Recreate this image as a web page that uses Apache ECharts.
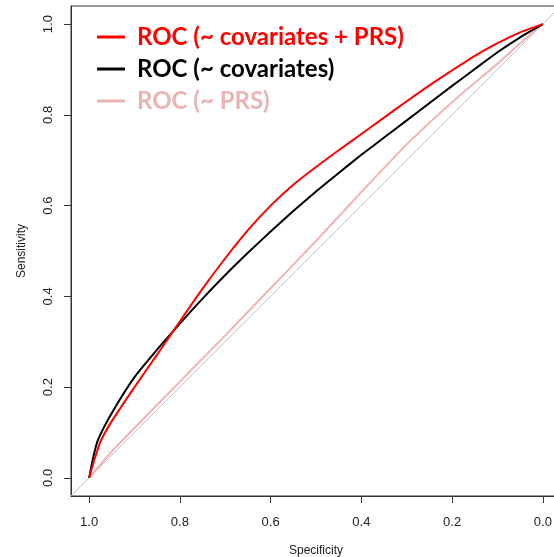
<!DOCTYPE html>
<html>
<head>
<meta charset="utf-8">
<script src="https://cdn.jsdelivr.net/npm/echarts@6/dist/echarts.min.js"></script>
<style>
  html, body { margin: 0; padding: 0; background: #fff; }
  #rocChart { width: 554px; height: 557px; }
</style>
</head>
<body>
<div id="rocChart"></div>
<script>
// ROC curves (specificity runs from 1 to 0)
let covPrsSpec = [1.0, 0.99, 0.975, 0.95, 0.9, 0.85, 0.8, 0.75, 0.7, 0.65, 0.6, 0.55, 0.5, 0.45, 0.4, 0.35, 0.3, 0.25, 0.2, 0.15, 0.1, 0.05, 0.0];
let covPrsSens = [0.0, 0.035, 0.08, 0.125, 0.2, 0.272, 0.345, 0.417, 0.484, 0.546, 0.6, 0.646, 0.685, 0.722, 0.758, 0.794, 0.83, 0.865, 0.898, 0.93, 0.958, 0.982, 1.0];

let covSpec = [1.0, 0.99, 0.98, 0.95, 0.9, 0.85, 0.8, 0.75, 0.7, 0.65, 0.6, 0.55, 0.5, 0.45, 0.4, 0.35, 0.3, 0.25, 0.2, 0.15, 0.1, 0.05, 0.0];
let covSens = [0.0, 0.05, 0.085, 0.143, 0.222, 0.283, 0.34, 0.395, 0.447, 0.496, 0.543, 0.588, 0.631, 0.672, 0.712, 0.75, 0.788, 0.826, 0.864, 0.901, 0.938, 0.971, 1.0];

let prsSpec = [1.0, 0.95, 0.9, 0.8, 0.7, 0.6, 0.5, 0.4, 0.3, 0.2, 0.1, 0.05, 0.0];
let prsSens = [0.0, 0.058, 0.11, 0.212, 0.314, 0.418, 0.522, 0.63, 0.735, 0.828, 0.913, 0.958, 1.0];

// chance line y = 1 - x, spans the whole plot box
let chanceSpec = [1.04, -0.04];
let chanceSens = [-0.04, 1.04];

let tickValues = [0, 0.2, 0.4, 0.6, 0.8, 1.0];
let legendNames = ['ROC (~ covariates + PRS)', 'ROC (~ covariates)', 'ROC (~ PRS)'];

function zipXY(xs, ys) {
    let out = [];
    for (let i = 0; i < xs.length; i++) {
        out.push([xs[i], ys[i]]);
    }
    return out;
}

let myChart = echarts.init(document.getElementById('rocChart'));

let axisFont = {
    fontFamily: '"Liberation Sans", Arial, sans-serif',
    fontSize: 13,
    color: '#222'
};

let option = {
    animation: false,
    backgroundColor: '#fff',
    grid: {
        left: 71,
        top: 6,
        width: 490,
        height: 490,
        outerBoundsMode: 'none',
        show: true,
        borderColor: '#333',
        borderWidth: 1,
        backgroundColor: 'transparent'
    },
    legend: {
        orient: 'vertical',
        left: 92,
        top: 20,
        itemWidth: 28,
        itemHeight: 3,
        itemGap: 8,
        icon: 'rect',
        selectedMode: false,
        textStyle: {
            fontFamily: 'Lato, "Open Sans", sans-serif',
            fontWeight: 'bold',
            fontSize: 24,
            lineHeight: 24,
            padding: [0, 0, 0, 7]
        },
        data: [
            {name: legendNames[0], itemStyle: {color: '#ff0000'}, textStyle: {color: '#ff0000'}},
            {name: legendNames[1], itemStyle: {color: '#000000'}, textStyle: {color: '#000000'}},
            {name: legendNames[2], itemStyle: {color: '#e8b4b4'}, textStyle: {color: '#e8b4b4'}}
        ]
    },
    xAxis: {
        type: 'value',
        inverse: true,
        min: -0.04,
        max: 1.04,
        name: 'Specificity',
        nameLocation: 'middle',
        nameGap: 49,
        nameTextStyle: {
            fontFamily: '"Liberation Sans", Arial, sans-serif',
            fontSize: 12,
            color: '#222'
        },
        axisLine: {show: true, onZero: false, lineStyle: {color: '#333', width: 1}},
        axisTick: {show: true, length: 7, customValues: tickValues, lineStyle: {color: '#333'}},
        axisLabel: Object.assign({
            customValues: tickValues,
            margin: 20,
            formatter: function (v) { return v.toFixed(1); }
        }, axisFont),
        splitLine: {show: false}
    },
    yAxis: {
        type: 'value',
        min: -0.04,
        max: 1.04,
        name: 'Sensitivity',
        nameLocation: 'middle',
        nameGap: 43,
        nameRotate: 90,
        nameTextStyle: {
            fontFamily: '"Liberation Sans", Arial, sans-serif',
            fontSize: 12,
            color: '#222'
        },
        axisLine: {show: true, onZero: false, lineStyle: {color: '#333', width: 1}},
        axisTick: {show: true, length: 7, customValues: tickValues, lineStyle: {color: '#333'}},
        axisLabel: Object.assign({
            customValues: tickValues,
            rotate: 90,
            margin: 16,
            formatter: function (v) { return v.toFixed(1); }
        }, axisFont),
        splitLine: {show: false}
    },
    series: [
        {
            name: 'chance',
            type: 'line',
            data: zipXY(chanceSpec, chanceSens),
            showSymbol: false,
            silent: true,
            lineStyle: {color: '#c4c4c4', width: 1}
        },
        {
            name: legendNames[2],
            type: 'line',
            data: zipXY(prsSpec, prsSens),
            showSymbol: false,
            smooth: 0.2,
            color: '#e8b4b4',
            lineStyle: {color: '#f2b4b4', width: 2}
        },
        {
            name: legendNames[1],
            type: 'line',
            data: zipXY(covSpec, covSens),
            showSymbol: false,
            smooth: 0.2,
            color: '#000',
            lineStyle: {color: '#000', width: 2}
        },
        {
            name: legendNames[0],
            type: 'line',
            data: zipXY(covPrsSpec, covPrsSens),
            showSymbol: false,
            smooth: 0.2,
            color: '#ff0000',
            lineStyle: {color: '#ff0000', width: 2}
        }
    ]
};

myChart.setOption(option);
</script>
</body>
</html>
